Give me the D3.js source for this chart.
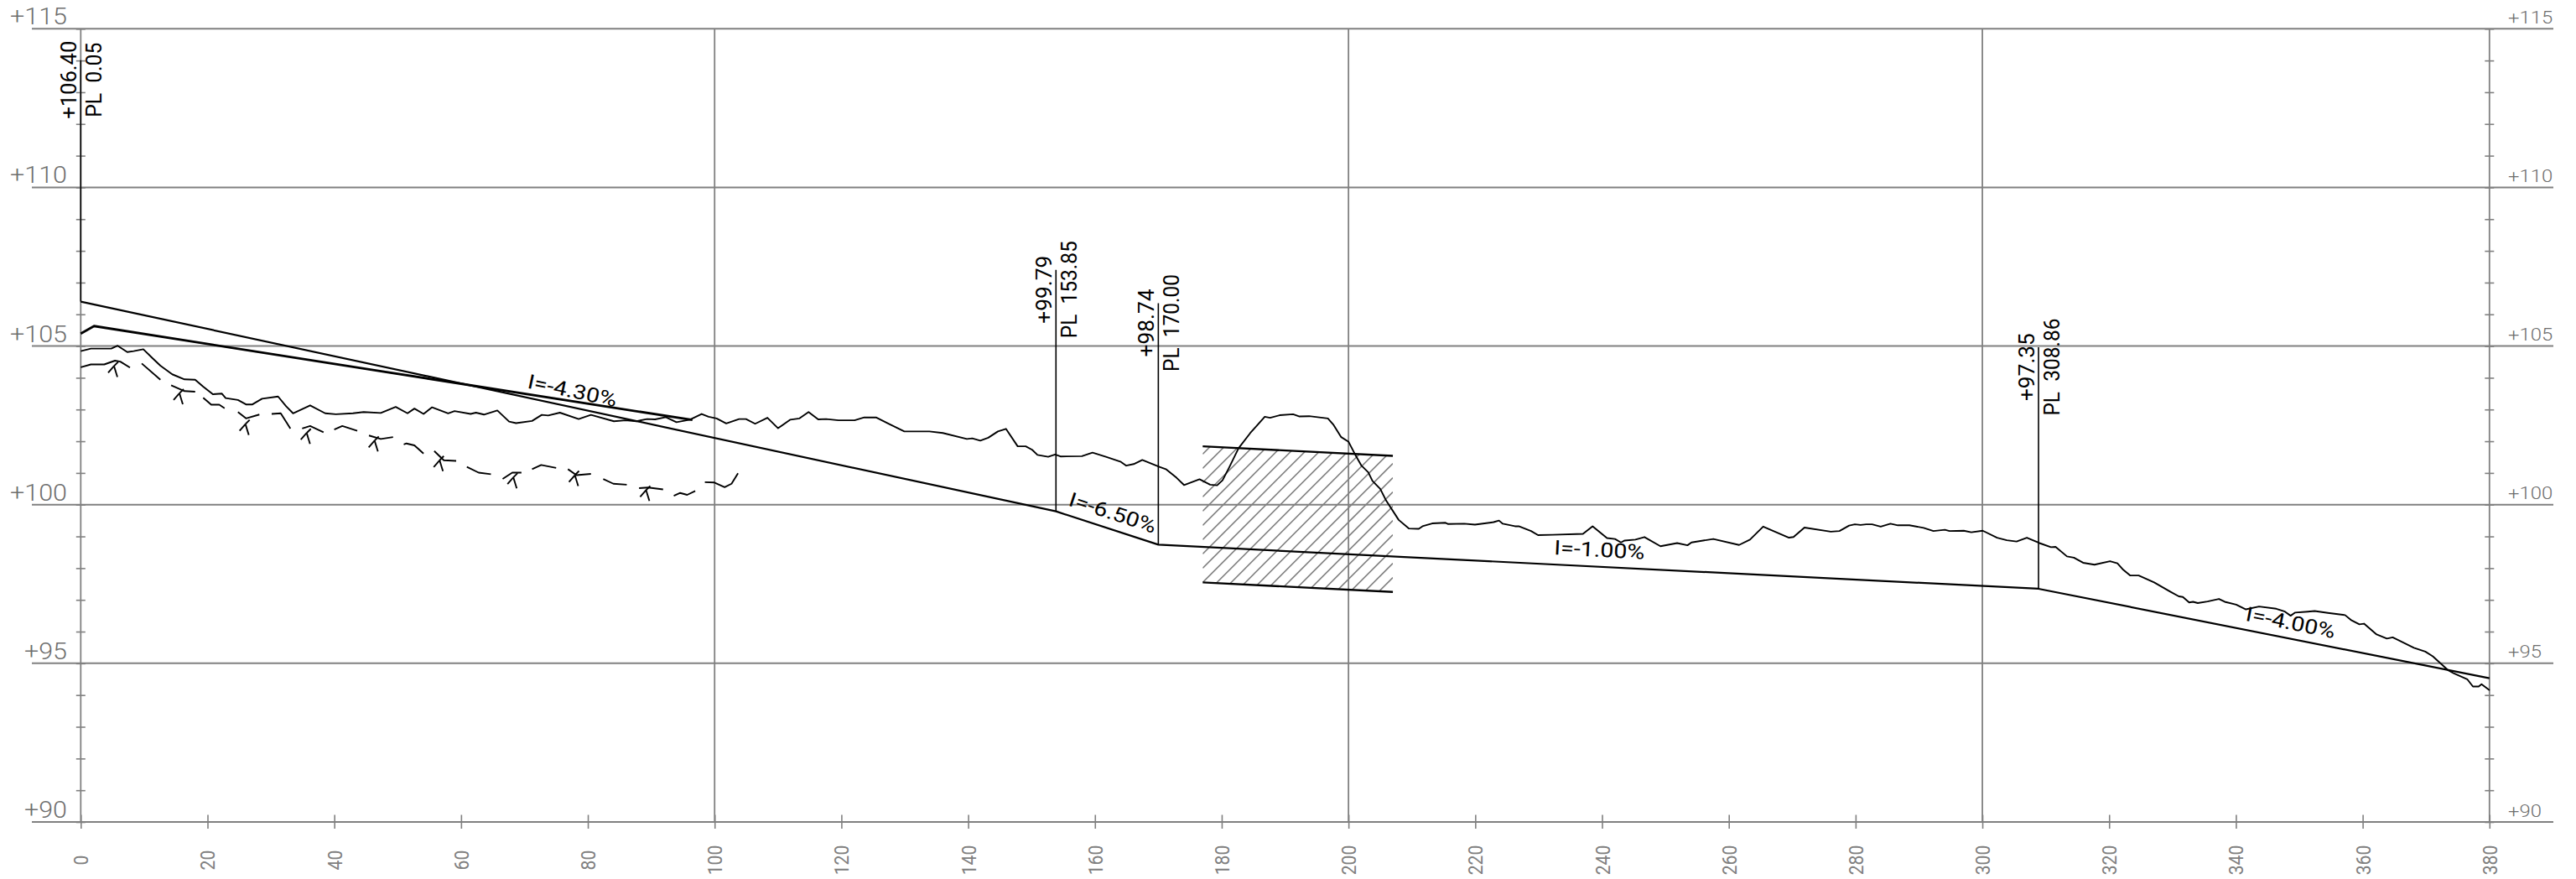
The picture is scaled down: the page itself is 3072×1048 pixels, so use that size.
<!DOCTYPE html>
<html>
<head>
<meta charset="utf-8">
<script src="https://cdn.jsdelivr.net/npm/d3@7"></script>
<style>
  html, body { margin: 0; background: #fff; }
  svg { display: block; }
  text { font-family: Roboto, "Liberation Sans", Arial, sans-serif; font-weight: 400; white-space: pre; }
  .thin { font-weight: 300; }
</style>
</head>
<body>
<svg id="chart" width="3072" height="1048"></svg>
<script>
const chainageGrid = [0, 100, 200, 300, 380]
const chainageTicks = d3.range(0, 381, 20)
const levelGrid = [115, 110, 105, 100, 95, 90]
const levelTicks = d3.range(90, 116, 1)

// design grade: chainage, level
const grade = [[0, 106.40], [153.85, 99.79], [170, 98.74], [308.86, 97.35], [380, 94.53]]
const gradePoints = [
  { pl: 'PL  0.05', level: '+106.40', x: 0, y: 106.40 },
  { pl: 'PL  153.85', level: '+99.79', x: 153.85, y: 99.79 },
  { pl: 'PL  170.00', level: '+98.74', x: 170, y: 98.74 },
  { pl: 'PL  308.86', level: '+97.35', x: 308.86, y: 97.35 },
]
const slopeLabels = [
  { text: 'I=-4.30%', slope: -4.30, x: 70.34, y: 103.68 },
  { text: 'I=-6.50%', slope: -6.50, x: 155.67, y: 99.98 },
  { text: 'I=-1.00%', slope: -1.00, x: 232.4, y: 98.43 },
  { text: 'I=-4.00%', slope: -4.00, x: 341.4, y: 96.35 },
]

// second, heavier line over the first stretch
const upperLine = [[0, 105.39], [2.1, 105.63], [47.6, 104.2], [96.5, 102.67]]

// band around the grade
const bandX = [177, 207]
const bandTop = [101.84, 101.54]
const bandBottom = [97.55, 97.25]

const ground = [
  [0,104.84],[1.6,104.92],[4.81,104.92],[5.82,105.01],[7.34,104.81],[8.35,104.84],[9.87,104.90],[11.31,104.62],
  [12.57,104.38],[14.43,104.11],[16.37,103.95],[18.05,103.94],[19.32,103.72],[20.84,103.48],[22.27,103.50],[22.86,103.36],
  [24.8,103.30],[26.07,103.16],[27.08,103.16],[28.6,103.34],[31.13,103.41],[32.4,103.10],[33.49,102.88],[36.19,103.13],
  [38.56,102.88],[40.24,102.85],[42.94,102.88],[44.63,102.92],[47.33,102.89],[49.69,103.08],[51.55,102.88],[52.64,103.03],
  [54.08,102.86],[55.43,103.07],[57.96,102.88],[58.97,102.95],[61.5,102.86],[62.35,102.90],[63.61,102.84],[65.72,102.97],
  [67.58,102.62],[68.67,102.57],[71.2,102.64],[72.73,102.83],[73.74,102.81],[75.59,102.90],[78.55,102.70],[80.49,102.83],
  [84.11,102.63],[85.97,102.66],[87.66,102.63],[89.34,102.70],[90.61,102.69],[92.3,102.76],[93.98,102.60],[96.09,102.68],
  [97.95,102.86],[99.05,102.77],[100.31,102.72],[101.83,102.56],[103.86,102.70],[104.95,102.70],[106.39,102.55],[108.33,102.74],
  [110.01,102.41],[111.95,102.68],[113.39,102.72],[114.82,102.92],[116.34,102.69],[117.6,102.70],[119.55,102.66],[122.08,102.66],
  [123.6,102.75],[125.46,102.75],[127.56,102.54],[129.93,102.31],[133.89,102.31],[136,102.26],[139.8,102.07],[140.64,102.09],
  [141.91,102.02],[143.17,102.11],[144.69,102.31],[145.96,102.39],[147.81,101.84],[149.08,101.84],[150.09,101.73],[150.93,101.57],
  [152.62,101.51],[153.72,101.58],[154.56,101.52],[157.94,101.53],[159.62,101.64],[161.73,101.51],[164.1,101.35],[164.94,101.23],
  [166.12,101.28],[167.47,101.41],[170.17,101.19],[171.18,101.12],[172.87,100.85],[174.05,100.62],[176.5,100.80],[178.18,100.63],
  [179.28,100.61],[180.13,100.77],[181.14,101.16],[182.66,101.78],[184.51,102.26],[186.79,102.77],[187.63,102.74],[189.15,102.82],
  [191.26,102.85],[192.28,102.78],[193.79,102.79],[196.75,102.72],[197.59,102.53],[198.85,102.13],[200.02,101.98],[201.13,101.55],
  [202.01,101.24],[203.12,101.02],[203.78,100.75],[205.01,100.50],[205.94,100.13],[207.92,99.52],[209.51,99.25],[211.09,99.24],[211.68,99.32],
  [213.2,99.41],[215.31,99.43],[215.73,99.39],[218.26,99.40],[219.95,99.37],[222.9,99.45],[223.74,99.50],[224.34,99.40],
  [226.27,99.32],[226.86,99.32],[228.8,99.17],[229.9,99.04],[232.18,99.05],[236.99,99.08],[238.51,99.32],[240.78,98.95],
  [242.05,98.92],[242.98,98.81],[243.57,98.87],[245.26,98.90],[246.69,98.98],[249.22,98.69],[251.85,98.79],[253.48,98.72],
  [254.11,98.81],[257.55,98.92],[261.62,98.73],[263.34,98.90],[265.42,99.31],[269.49,98.96],[270.21,98.98],[271.93,99.28],
  [276.09,99.15],[277.45,99.17],[278.98,99.34],[279.89,99.38],[280.79,99.36],[281.7,99.38],[282.6,99.38],[283.96,99.31],
  [285.5,99.40],[286.67,99.35],[288.48,99.35],[290.74,99.27],[292.28,99.17],[294.09,99.21],[294.81,99.17],[297.07,99.18],
  [298.25,99.13],[300.06,99.18],[302.32,98.96],[303.86,98.88],[305.4,98.84],[307.02,98.96],[309.01,98.79],[310.82,98.66],
  [311.55,98.67],[313.35,98.37],[314.44,98.33],[315.89,98.17],[317.69,98.11],[320.14,98.22],[321.31,98.15],[322.22,97.95],
  [323.3,97.77],[324.66,97.77],[327.1,97.55],[329.63,97.26],[330.99,97.11],[331.63,97.09],[332.62,96.92],[333.25,96.94],
  [333.98,96.90],[335.52,96.95],[337.32,97.03],[338.23,96.94],[340.04,96.85],[341.58,96.70],[343.65,96.79],[346.37,96.72],
  [347.73,96.63],[348.63,96.50],[349.35,96.60],[351.34,96.63],[352.43,96.65],[354.51,96.59],[357.22,96.52],[358.13,96.37],
  [359.48,96.23],[360.21,96.25],[362.2,95.91],[363.82,95.78],[364.73,95.82],[368.08,95.49],[369.88,95.37],[371.06,95.22],
  [373.5,94.78],[374.41,94.68],[376.49,94.50],[377.39,94.27],[378.3,94.27],[378.75,94.34],[380.02,94.15],
]

// dashed line, null = gap
const treeLine = [
  [0,104.33],[1.6,104.42],[3.71,104.42],[5.4,104.54],[6.24,104.51],[7.76,104.32],null,
  [9.62,104.45],[12.57,103.94],null,
  [14.26,103.76],[16.37,103.58],[18.05,103.56],null,
  [19.32,103.37],[20.59,103.15],[21.85,103.15],[22.69,103.04],null,
  [24.8,102.92],[26.07,102.72],[28.18,102.84],null,
  [30.12,102.86],[31.55,102.88],[33.07,102.40],null,
  [34.93,102.40],[36.19,102.48],[38.3,102.28],null,
  [39.99,102.37],[41.26,102.48],[43.62,102.33],null,
  [45.47,102.18],[47.33,102.07],[49.27,102.13],null,
  [50.96,101.90],[51.38,101.93],[52.64,101.87],[54.08,101.61],null,
  [55.77,101.69],[57.28,101.40],[59.23,101.38],null,
  [60.91,101.19],[62.77,101.01],[64.71,100.96],null,
  [66.56,100.81],[68.08,101.01],[69.52,101.01],null,
  [71.2,101.12],[72.64,101.25],[75,101.16],null,
  [76.86,101.12],[78.21,100.93],[80.49,100.97],null,
  [82.43,100.81],[84.03,100.66],[86.14,100.63],null,
  [88.08,100.52],[89.51,100.54],[91.87,100.48],null,
  [93.56,100.28],[94.57,100.37],[95.67,100.31],[96.94,100.43],null,
  [98.46,100.71],[99.89,100.70],[101.58,100.55],[102.67,100.66],[103.69,100.99],
]
const trees = [[5.25,104.37],[15.57,103.51],[25.98,102.54],[35.64,102.26],[46.35,102.02],[56.61,101.40],[68.25,100.86],[77.95,100.93],[89.18,100.46]]

const gray = '#808080'
const svg = d3.select('#chart')
const x = d3.scaleLinear().domain([0, 380]).range([96.3, 2968.8])
const y = d3.scaleLinear().domain([90, 115]).range([980, 34.3])
const line = d3.line().defined(d => d).x(d => x(d[0])).y(d => y(d[1]))

// hatch band
const bandPoly = [[bandX[0], bandTop[0]], [bandX[1], bandTop[1]], [bandX[1], bandBottom[1]], [bandX[0], bandBottom[0]]]
svg.append('clipPath').attr('id', 'band-clip').append('path').attr('d', line(bandPoly) + 'Z')
const x0 = x(bandX[0]), x1 = x(bandX[1])
svg.append('g').attr('clip-path', 'url(#band-clip)')
  .selectAll('line').data(d3.range(-10, 15)).join('line')
  .attr('x1', x0).attr('x2', x1)
  .attr('y1', k => y(bandBottom[0]) + 17 * k)
  .attr('y2', k => y(bandBottom[0]) + 17 * k - (x1 - x0))
  .attr('stroke', gray).attr('stroke-width', 1.6)

// grid
svg.append('g').selectAll('line').data(levelGrid).join('line')
  .attr('x1', 38).attr('x2', 3045).attr('y1', d => y(d)).attr('y2', d => y(d))
  .attr('stroke', gray).attr('stroke-width', 2)
svg.append('g').selectAll('line').data(chainageGrid).join('line')
  .attr('x1', d => x(d)).attr('x2', d => x(d)).attr('y1', y(115)).attr('y2', y(90))
  .attr('stroke', gray).attr('stroke-width', 1.8)

// axes
function styleAxis(g) {
  g.select('.domain').remove()
  g.selectAll('line').attr('stroke', gray).attr('stroke-width', 1.6)
}
svg.append('g').attr('transform', `translate(0,${y(90)})`)
  .call(d3.axisBottom(x).tickValues(chainageTicks).tickSize(8).tickPadding(0).tickFormat(d => d))
  .call(styleAxis)
  .call(g => g.selectAll('line').attr('y1', -8.5).attr('y2', 8))
  .call(g => g.selectAll('text')
    .attr('transform', 'rotate(-90)')
    .attr('x', -45.5).attr('y', 8.5).attr('dy', 0)
    .attr('text-anchor', 'middle')
    .attr('fill', gray).attr('font-size', 24)
    .attr('textLength', d => String(d).length * 11.9).attr('lengthAdjust', 'spacingAndGlyphs'))
const yLeft = svg.append('g').attr('transform', `translate(${x(0)},0)`)
  .call(d3.axisLeft(y).tickValues(levelTicks).tickSize(5.5).tickFormat(''))
  .call(styleAxis)
yLeft.selectAll('line').attr('x2', 5.5).attr('x1', -5.5)
const yRight = svg.append('g').attr('transform', `translate(${x(380)},0)`)
  .call(d3.axisRight(y).tickValues(levelTicks).tickSize(5.5).tickFormat(''))
  .call(styleAxis)
yRight.selectAll('line').attr('x1', -5.5).attr('x2', 5.5)

// level labels
svg.append('g').selectAll('text').data(levelGrid).join('text')
  .attr('class', 'thin')
  .attr('x', 80).attr('y', d => y(d) - 5)
  .attr('text-anchor', 'end').attr('font-size', 27).attr('fill', '#6e6e6e')
  .attr('textLength', d => ('+' + d).length * 17).attr('lengthAdjust', 'spacingAndGlyphs')
  .text(d => '+' + d)
svg.append('g').selectAll('text').data(levelGrid).join('text')
  .attr('class', 'thin')
  .attr('x', 2991).attr('y', d => y(d) - 6.5)
  .attr('font-size', 20).attr('fill', '#6e6e6e')
  .attr('textLength', d => ('+' + d).length * 13.3).attr('lengthAdjust', 'spacingAndGlyphs')
  .text(d => '+' + d)

// profile lines
function drawLine(data, width) {
  svg.append('path').attr('d', line(data)).attr('fill', 'none')
    .attr('stroke', '#000').attr('stroke-width', width).attr('stroke-linejoin', 'round')
}
drawLine(bandPoly.slice(0, 2), 2.4)
drawLine(bandPoly.slice(2), 2.4)
drawLine(ground, 1.9)
drawLine(treeLine, 1.9)
drawLine(upperLine, 2.8)
drawLine(grade, 2.2)

// tree symbols
const treeG = svg.append('g').selectAll('g').data(trees).join('g')
  .attr('transform', d => `translate(${x(d[0])},${y(d[1])})`)
treeG.selectAll('line').data([[5, -5], [-7, 8], [4, 13]]).join('line')
  .attr('x2', d => d[0]).attr('y2', d => d[1])
  .attr('stroke', '#000').attr('stroke-width', 1.9)

// grade point markers and labels
const pts = svg.append('g').selectAll('g').data(gradePoints).join('g')
pts.append('line')
  .attr('x1', d => x(d.x)).attr('x2', d => x(d.x))
  .attr('y1', d => y(d.y)).attr('y2', d => y(d.y + 7.61))
  .attr('stroke', '#000').attr('stroke-width', 1.6)
pts.append('text')
  .attr('transform', d => `translate(${x(d.x) - 5.5},${y(d.y + 7.61) + 23.5}) rotate(-90)`)
  .attr('text-anchor', 'middle').attr('font-size', 26).attr('fill', '#000')
  .attr('textLength', d => d.level.length === 7 ? 93 : 81).attr('lengthAdjust', 'spacingAndGlyphs')
  .text(d => d.level)
pts.append('text')
  .attr('transform', d => `translate(${x(d.x) + 24.5},${y(d.y + 7.61) + 23.5}) rotate(-90)`)
  .attr('text-anchor', 'middle').attr('font-size', 26).attr('fill', '#000')
  .attr('textLength', d => d.pl.length === 8 ? 89 : 116).attr('lengthAdjust', 'spacingAndGlyphs')
  .text(d => d.pl)

// slope labels follow the drawn slope
const rise = (y(0) - y(1)) / (x(1) - x(0))
svg.append('g').selectAll('text').data(slopeLabels).join('text')
  .attr('transform', d => {
    const angle = Math.atan(-d.slope / 100 * rise) * 180 / Math.PI
    return `translate(${x(d.x)},${y(d.y)}) rotate(${angle})`
  })
  .attr('font-size', 24).attr('fill', '#000')
  .attr('textLength', 108).attr('lengthAdjust', 'spacingAndGlyphs')
  .text(d => d.text)
</script>
</body>
</html>
